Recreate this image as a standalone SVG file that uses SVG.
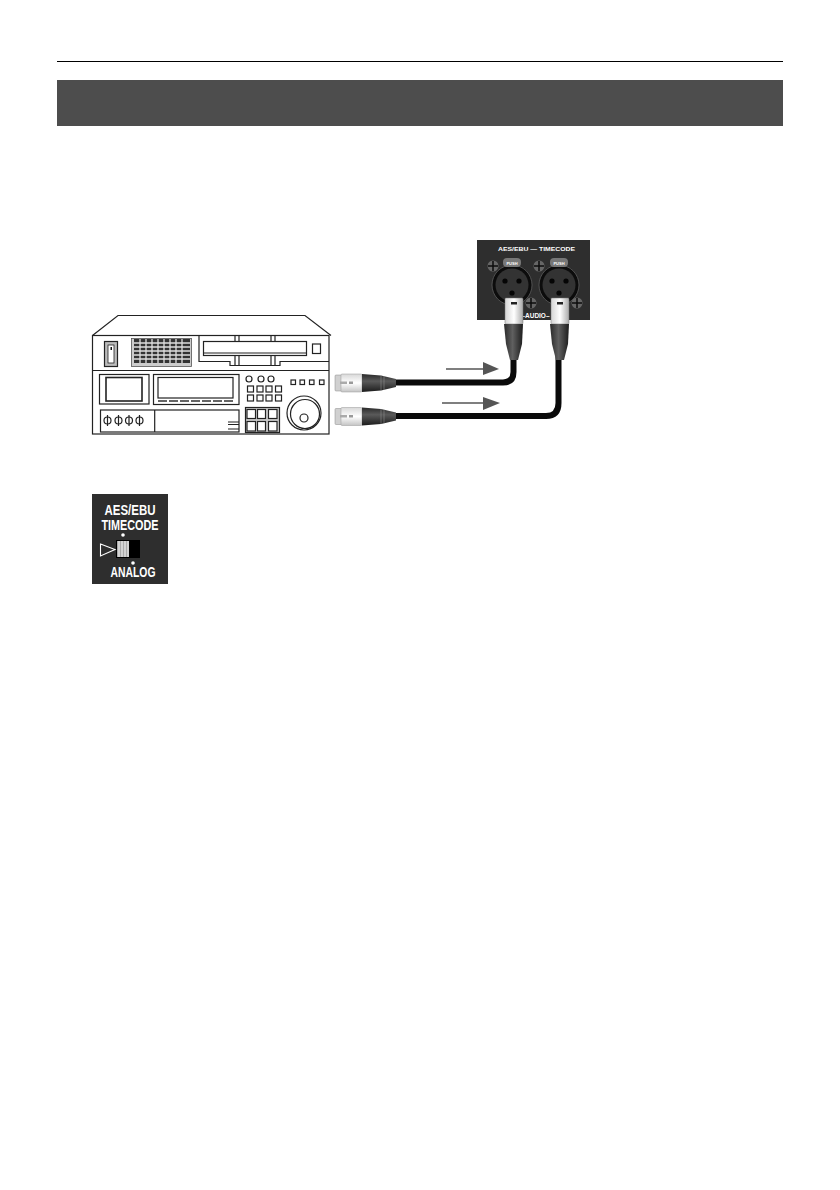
<svg xmlns="http://www.w3.org/2000/svg" xmlns:xlink="http://www.w3.org/1999/xlink" width="840" height="1190" viewBox="0 0 840 1190">
<style>
.o{fill:#fff;stroke:#222;stroke-width:1.200}
.n{fill:none;stroke:#222;stroke-width:1.200}
.t{font-family:"Liberation Sans",Arial,sans-serif;font-weight:bold;fill:#fff}
.cable{fill:none;stroke:#0a0a0a;stroke-width:6}
.arrowline{fill:none;stroke:#555;stroke-width:1.600}
</style>
<defs>
<linearGradient id="whiteH" x1="0" y1="0" x2="0" y2="1"><stop offset="0" stop-color="#d8d8d8"/><stop offset=".5" stop-color="#fff"/><stop offset="1" stop-color="#c4c4c4"/></linearGradient>
<linearGradient id="darkH" x1="0" y1="0" x2="0" y2="1"><stop offset="0" stop-color="#2a2a2a"/><stop offset=".4" stop-color="#5a5a5a"/><stop offset="1" stop-color="#1c1c1c"/></linearGradient>
<linearGradient id="whiteV" x1="0" y1="0" x2="1" y2="0"><stop offset="0" stop-color="#d4d4d4"/><stop offset=".5" stop-color="#fff"/><stop offset="1" stop-color="#aaa"/></linearGradient>
<linearGradient id="darkV" x1="0" y1="0" x2="1" y2="0"><stop offset="0" stop-color="#2a2a2a"/><stop offset=".45" stop-color="#606060"/><stop offset="1" stop-color="#1c1c1c"/></linearGradient>
<g id="plugH">
<rect x="0" y="1" width="7" height="16" rx="1" fill="#d0d0d0" stroke="#888" stroke-width=".5"/>
<rect x="6" y="0" width="21" height="18" rx="1" fill="url(#whiteH)" stroke="#999" stroke-width=".5"/>
<rect x="5" y="7.500" width="7" height="2.500" fill="#aaa"/><rect x="14" y="7.500" width="4" height="2.500" fill="#999"/>
<path d="M27 0L46 1.500L61 5V13L46 16.500L27 18Z" fill="url(#darkH)"/>
<path d="M46 1.500V16.500M49 2V16" stroke="#999" stroke-width=".5" fill="none"/>
</g>
<g id="plugV">
<rect x="0" y="0" width="18" height="26" rx="1" fill="url(#whiteV)" stroke="#777" stroke-width=".5"/>
<rect x="6" y="4" width="6" height="2.500" fill="#222"/>
<path d="M-1 26H18L17 46L13 62H5L1 46Z" fill="url(#darkV)"/>
</g>
<g id="xlr">
<circle r="20" fill="#0c0c0c" stroke="#666" stroke-width=".7"/>
<circle r="16.500" fill="#333"/>
<circle cx="-7" cy="-4" r="2.600" fill="#050505"/><circle cx="7" cy="-4" r="2.600" fill="#050505"/><circle cx="0" cy="8" r="2.600" fill="#050505"/>
<rect x="-9" y="-27" width="18" height="9" rx="4" fill="#777"/>
<text class="t" y="-20" text-anchor="middle" font-size="4">PUSH</text>
</g>
<g id="screw">
<circle r="5.500" fill="#666"/><path d="M-5 0H5M0 -5V5" stroke="#0c0c0c" stroke-width="1.500"/>
</g>
</defs>
<rect width="840" height="1190" fill="#fff"/>

<g id="page-rule"><rect x="57" y="61" width="726" height="1" fill="#000"/></g>
<g id="header-bar"><rect x="57" y="80" width="726" height="46" fill="#4d4d4d"/></g>

<g id="vtr">
<path class="o" d="M92.500 335.500L118 315.500H305L331 335.500"/>
<rect class="o" x="92.500" y="335.500" width="236.500" height="98.500"/>
<path class="n" d="M93 370.500H329"/>
<g id="vtr-power"><rect x="104.500" y="341.500" width="13" height="25" fill="#bbb" stroke="#222" stroke-width="1.200"/><rect x="108" y="345" width="6" height="18" fill="#fff" stroke="#222" stroke-width=".8"/><rect x="110.500" y="347" width="1.500" height="3" fill="#111"/></g>
<g id="vtr-grille">
<rect x="131.500" y="338.500" width="60" height="28" fill="#ccc" stroke="#555" stroke-width=".8"/>
<rect x="134" y="339" width="56" height="24" fill="#333"/>
<path d="M140 339V363M146 339V363M152 339V363M158 339V363M164 339V363M170 339V363M176 339V363M182 339V363M134 343H190M134 347H190M134 351H190M134 355H190M134 359H190" stroke="#ddd" stroke-width="1.300" fill="none"/>
</g>
<g id="vtr-slot">
<path class="n" d="M199 335.500V361.500H230V365.500H280V361.500H329"/>
<rect class="o" x="203.500" y="341.500" width="103" height="14"/>
<path class="n" d="M235 335.500V341M239 335.500V341M271 335.500V341M275 335.500V341M235 356V365M239 356V365M271 356V365M275 356V365M203 353H306"/>
<rect class="o" x="312.500" y="344" width="8" height="9.500"/>
</g>
<g id="vtr-meter"><rect class="o" x="99.500" y="374.500" width="49.500" height="29.500"/><rect x="106" y="377.500" width="36" height="23.500" fill="#fff" stroke="#222" stroke-width="1.600"/></g>
<g id="vtr-display">
<rect class="o" x="153.500" y="374.500" width="85.500" height="30"/><rect class="o" x="158" y="377.500" width="75" height="20.500"/>
<path d="M158 401H167M169 401H178M180 401H189M191 401H200M202 401H211M213 401H222M224 401H233" stroke="#333" stroke-width="1.500" fill="none"/>
</g>
<g id="vtr-keys">
<circle class="n" cx="249" cy="379" r="3"/><circle class="n" cx="261" cy="379" r="3"/><circle class="n" cx="271" cy="379" r="3"/>
<rect class="n" x="247.500" y="386" width="6" height="6"/><rect class="n" x="257" y="386" width="6" height="6"/><rect class="n" x="266" y="386" width="6" height="6"/><rect class="n" x="275.500" y="386" width="6" height="6"/>
<rect class="n" x="247.500" y="395" width="6" height="6"/><rect class="n" x="257" y="395" width="6" height="6"/><rect class="n" x="266" y="395" width="6" height="6"/><rect class="n" x="275.500" y="395" width="6" height="6"/>
<rect class="n" x="291" y="380" width="4.500" height="4.500"/><rect class="n" x="300" y="380" width="4.500" height="4.500"/><rect class="n" x="309.500" y="380" width="4.500" height="4.500"/><rect class="n" x="319.500" y="380" width="4.500" height="4.500"/>
</g>
<g id="vtr-knob"><circle class="n" cx="304" cy="413" r="17"/><circle class="n" cx="305" cy="414" r="14.500"/><circle class="n" cx="304" cy="418" r="4"/></g>
<g id="vtr-bottom-panel">
<rect class="o" x="100.500" y="410" width="138.500" height="22"/>
<path class="n" d="M154.700 410V432M228 422H239M228 424.500H239M228 429H239"/>
<circle class="n" cx="107.500" cy="420.500" r="3.500"/><circle class="n" cx="118.500" cy="420.500" r="3.500"/><circle class="n" cx="129" cy="420.500" r="3.500"/><circle class="n" cx="139.500" cy="420.500" r="3.500"/>
<path class="n" d="M107.500 415V426M118.500 415V426M129 415V426M139.500 415V426"/>
</g>
<g id="vtr-grid">
<rect x="245.500" y="407.500" width="34" height="25" fill="#ccc" stroke="#222" stroke-width="1.200"/>
<rect class="o" x="247" y="409.500" width="8.500" height="9"/><rect class="o" x="257.500" y="409.500" width="8" height="9"/><rect class="o" x="268.500" y="409.500" width="8.500" height="9"/>
<rect class="o" x="247" y="421.500" width="8.500" height="9.500"/><rect class="o" x="257.500" y="421.500" width="8" height="9.500"/><rect class="o" x="268.500" y="421.500" width="8.500" height="9.500"/>
</g>
</g>

<g id="rear-panel">
<rect x="477" y="240" width="113" height="80" fill="#2e2e2e"/>
<text class="t" x="536.500" y="250.500" text-anchor="middle" font-size="6" textLength="77" lengthAdjust="spacingAndGlyphs">AES/EBU — TIMECODE</text>
<use xlink:href="#screw" href="#screw" x="493" y="266"/><use xlink:href="#screw" href="#screw" x="539" y="266"/>
<use xlink:href="#xlr" href="#xlr" x="512" y="285"/><use xlink:href="#xlr" href="#xlr" x="559" y="285"/>
<use xlink:href="#screw" href="#screw" x="531" y="303"/><use xlink:href="#screw" href="#screw" x="577" y="303"/>
<text class="t" x="535.500" y="317.500" text-anchor="middle" font-size="6.500" textLength="28" lengthAdjust="spacingAndGlyphs">–AUDIO–</text>
</g>

<g id="connectors">
<path class="cable" d="M392 382.500H503Q513.500 382.500 513.500 372V356"/>
<path class="cable" d="M392 416H546Q558.500 416 558.500 403V356"/>
<path class="arrowline" d="M446 369H484"/>
<path d="M483 362L499 369L483 375Z" fill="#555"/>
<path class="arrowline" d="M442 403H484"/>
<path d="M483 397L500 403L483 410Z" fill="#555"/>
</g>

<g id="plug-vtr-1"><use xlink:href="#plugH" href="#plugH" x="335" y="374"/></g>
<g id="plug-vtr-2"><use xlink:href="#plugH" href="#plugH" x="335" y="407.500"/></g>
<g id="plug-panel-1"><use xlink:href="#plugV" href="#plugV" x="505" y="298"/></g>
<g id="plug-panel-2"><use xlink:href="#plugV" href="#plugV" x="551" y="298"/></g>

<g id="selector-switch">
<rect x="92" y="494" width="76" height="90" fill="#2e2e2e"/>
<text class="t" x="130" y="515" text-anchor="middle" font-size="14" textLength="51" lengthAdjust="spacingAndGlyphs">AES/EBU</text>
<text class="t" x="130" y="530" text-anchor="middle" font-size="14" textLength="57" lengthAdjust="spacingAndGlyphs">TIMECODE</text>
<circle cx="123" cy="535" r="1.800" fill="#fff"/>
<rect x="116" y="540" width="24" height="18" fill="#000"/>
<rect x="117" y="541" width="12" height="16" fill="#aaa"/>
<path d="M119 541V557M122 541V557M125 541V557M128 541V557" stroke="#eee" stroke-width="1.200" fill="none"/>
<path d="M100.500 544L115 549.500L100.500 556Z" fill="#2e2e2e" stroke="#fff" stroke-width="1.100"/>
<circle cx="133" cy="563" r="1.800" fill="#fff"/>
<text class="t" x="133" y="577" text-anchor="middle" font-size="14" textLength="45" lengthAdjust="spacingAndGlyphs">ANALOG</text>
</g>
</svg>
